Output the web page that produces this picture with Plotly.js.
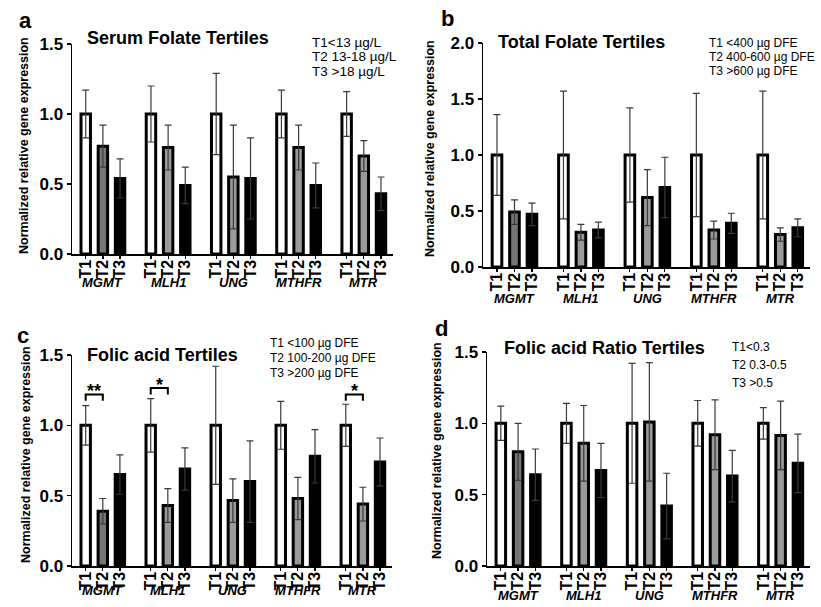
<!DOCTYPE html>
<html>
<head>
<meta charset="utf-8">
<script src="https://cdn.plot.ly/plotly-3.0.1.min.js"></script>
<style>html,body{margin:0;padding:0;background:#fff;}#chart{width:821px;height:607px;}</style>
</head>
<body>
<div id="chart"></div>
<script>
// ---------- data ----------
const genes = ['MGMT', 'MLH1', 'UNG', 'MTHFR', 'MTR'];
const tertiles = ['T1', 'T2', 'T3'];

// Panel a: Serum folate tertiles
const serumT1 = [1.00, 1.00, 1.00, 1.00, 1.00];
const serumT1Err = [0.17, 0.20, 0.29, 0.17, 0.16];
const serumT2 = [0.77, 0.76, 0.55, 0.76, 0.70];
const serumT2Err = [0.15, 0.16, 0.37, 0.16, 0.11];
const serumT3 = [0.54, 0.49, 0.54, 0.49, 0.43];
const serumT3Err = [0.14, 0.13, 0.29, 0.16, 0.12];

// Panel b: Total folate tertiles
const totalT1 = [1.00, 1.00, 1.00, 1.00, 1.00];
const totalT1Err = [0.36, 0.57, 0.42, 0.55, 0.57];
const totalT2 = [0.49, 0.31, 0.62, 0.33, 0.29];
const totalT2Err = [0.11, 0.07, 0.25, 0.08, 0.06];
const totalT3 = [0.47, 0.33, 0.71, 0.39, 0.35];
const totalT3Err = [0.10, 0.07, 0.27, 0.09, 0.08];

// Panel c: Folic acid tertiles
const folicT1 = [1.00, 1.00, 1.00, 1.00, 1.00];
const folicT1Err = [0.14, 0.19, 0.42, 0.17, 0.15];
const folicT2 = [0.39, 0.43, 0.465, 0.48, 0.44];
const folicT2Err = [0.09, 0.12, 0.155, 0.15, 0.12];
const folicT3 = [0.65, 0.69, 0.60, 0.78, 0.74];
const folicT3Err = [0.14, 0.15, 0.29, 0.19, 0.17];

// Panel d: Folic acid ratio tertiles
const ratioT1 = [1.00, 1.00, 1.00, 1.00, 1.00];
const ratioT1Err = [0.12, 0.14, 0.42, 0.16, 0.11];
const ratioT2 = [0.80, 0.86, 1.01, 0.92, 0.915];
const ratioT2Err = [0.20, 0.265, 0.415, 0.245, 0.24];
const ratioT3 = [0.64, 0.67, 0.42, 0.63, 0.72];
const ratioT3Err = [0.18, 0.19, 0.23, 0.18, 0.205];

// Significance (panel c): T1 vs T2
const sigGenes = ['MGMT', 'MLH1', 'MTR'];
const sigLabels = ['**', '*', '*'];
const sigHeights = [1.22, 1.265, 1.22];

const titles = ['Serum Folate Tertiles', 'Total Folate Tertiles', 'Folic acid Tertiles', 'Folic acid Ratio Tertiles'];
const panelLetters = ['a', 'b', 'c', 'd'];
const legendA = ['T1<13 µg/L', 'T2 13-18 µg/L', 'T3 >18 µg/L'];
const legendB = ['T1 <400 µg DFE', 'T2 400-600 µg DFE', 'T3 >600 µg DFE'];
const legendC = ['T1 <100 µg DFE', 'T2 100-200 µg DFE', 'T3 >200 µg DFE'];
const legendD = ['T1<0.3', 'T2 0.3-0.5', 'T3 >0.5'];
const yTitle = 'Normalized relative gene expression';

// ---------- styling / layout ----------
const W = 821, H = 607;
const FONT = 'Liberation Sans, Arial, sans-serif';
const GROUP = 3.8;          // slots between gene groups
const BARW = 0.55;
const t2Fill = ['#767676', '#9a9a9a', '#9a9a9a', '#9a9a9a', '#9a9a9a'];
const fills = [() => '#ffffff', () => t2Fill, () => '#000000'];

const px = v => v / W;
const py = v => 1 - v / H;

const panels = [
  { vals: [serumT1, serumT2, serumT3], errs: [serumT1Err, serumT2Err, serumT3Err], ymax: 1.5,
    xd: [72, 393], yd: [44, 254], legend: legendA, legX: 310, legY: 42, legDy: 15, legSize: 13.5,
    titleX: 85, titleY: 38, letter: [26, 21], yt: [24, 146], geneY: 282 },
  { vals: [totalT1, totalT2, totalT3], errs: [totalT1Err, totalT2Err, totalT3Err], ymax: 2.0,
    xd: [483, 810], yd: [43, 267], legend: legendB, legX: 707, legY: 43, legDy: 14, legSize: 12,
    titleX: 496, titleY: 42, letter: [447, 18], yt: [430, 149], geneY: 298 },
  { vals: [folicT1, folicT2, folicT3], errs: [folicT1Err, folicT2Err, folicT3Err], ymax: 1.5,
    xd: [72, 392], yd: [355, 566], legend: legendC, legX: 268, legY: 343, legDy: 15, legSize: 12,
    titleX: 85, titleY: 355, letter: [23, 335], yt: [26, 455], geneY: 590 },
  { vals: [ratioT1, ratioT2, ratioT3], errs: [ratioT1Err, ratioT2Err, ratioT3Err], ymax: 1.5,
    xd: [487, 810], yd: [352, 566], legend: legendD, legX: 730, legY: 347, legDy: 18, legSize: 12,
    titleX: 502, titleY: 348, letter: [442, 329], yt: [437, 451], geneY: 595 }
];

const traces = [];
const layout = {
  width: W, height: H,
  margin: { l: 0, r: 0, t: 0, b: 0 },
  paper_bgcolor: '#ffffff', plot_bgcolor: 'rgba(0,0,0,0)',
  showlegend: false, barmode: 'overlay',
  font: { family: FONT, color: '#000000' },
  annotations: [], shapes: []
};

const tickvals = [], ticktext = [];
genes.forEach((g, gi) => tertiles.forEach((t, ti) => { tickvals.push(gi * GROUP + ti); ticktext.push('<b>' + t + '</b>'); }));

panels.forEach((p, pi) => {
  const sfx = pi === 0 ? '' : String(pi + 1);
  const xa = 'x' + sfx, ya = 'y' + sfx;
  p.vals.forEach((vals, ti) => {
    traces.push({
      type: 'bar', xaxis: xa, yaxis: ya,
      x: genes.map((g, gi) => gi * GROUP + ti),
      y: vals, width: BARW,
      marker: { color: fills[ti](), line: { color: '#000000', width: 3 } },
      error_y: { type: 'data', array: p.errs[ti], visible: true, color: '#3a3a3a', thickness: 1.2, width: 3.5 },
      hoverinfo: 'skip'
    });
  });
  layout['xaxis' + sfx] = {
    domain: [px(p.xd[0]), px(p.xd[1])], anchor: ya,
    range: [-0.8, 4 * GROUP + 2 + 0.7],
    showgrid: false, zeroline: false, showline: true, linecolor: '#000', linewidth: 1.5,
    ticks: 'outside', ticklen: 3, tickcolor: '#000', tickwidth: 1.2,
    tickmode: 'array', tickvals: tickvals, ticktext: ticktext, tickangle: -90,
    ticklabelstandoff: -5,
    tickfont: { family: FONT, size: 16, color: '#000' }, fixedrange: true
  };
  layout['yaxis' + sfx] = {
    domain: [py(p.yd[1]), py(p.yd[0])], anchor: xa,
    range: [0, p.ymax], dtick: 0.5, tickformat: '.1f',
    showgrid: false, zeroline: false, showline: true, linecolor: '#000', linewidth: 1.5,
    ticks: 'outside', ticklen: 4, tickcolor: '#000', tickwidth: 1.2,
    tickfont: { family: FONT, size: 17, color: '#000', weight: 'bold' }, fixedrange: true
  };
  // gene labels
  genes.forEach((g, gi) => {
    layout.annotations.push({ xref: xa, yref: 'paper', x: gi * GROUP + 1, y: py(p.geneY),
      text: '<b><i>' + g + '</i></b>', showarrow: false, xanchor: 'center', yanchor: 'middle',
      font: { family: FONT, size: 13, color: '#000' } });
  });
  // title
  layout.annotations.push({ xref: 'paper', yref: 'paper', x: px(p.titleX), y: py(p.titleY),
    text: '<b>' + titles[pi] + '</b>', showarrow: false, xanchor: 'left', yanchor: 'middle',
    font: { family: FONT, size: 18, color: '#000' } });
  // panel letter
  layout.annotations.push({ xref: 'paper', yref: 'paper', x: px(p.letter[0]), y: py(p.letter[1]),
    text: '<b>' + panelLetters[pi] + '</b>', showarrow: false, xanchor: 'center', yanchor: 'middle',
    font: { family: FONT, size: 22, color: '#000' } });
  // y title
  layout.annotations.push({ xref: 'paper', yref: 'paper', x: px(p.yt[0]), y: py(p.yt[1]),
    text: '<b>' + yTitle + '</b>', showarrow: false, textangle: -90, xanchor: 'center', yanchor: 'middle',
    font: { family: FONT, size: 12.5, color: '#000' } });
  // legend text
  p.legend.forEach((s, li) => {
    layout.annotations.push({ xref: 'paper', yref: 'paper', x: px(p.legX), y: py(p.legY + li * p.legDy),
      text: s, showarrow: false, xanchor: 'left', yanchor: 'middle',
      font: { family: FONT, size: p.legSize, color: '#000' } });
  });
});

// significance brackets on panel c
sigGenes.forEach((g, i) => {
  const gi = genes.indexOf(g);
  const x1 = gi * GROUP, x2 = gi * GROUP + 1, h = sigHeights[i], d = 0.045;
  layout.shapes.push({ type: 'path', xref: 'x3', yref: 'y3',
    path: `M ${x1},${h - d} L ${x1},${h} L ${x2},${h} L ${x2},${h - d}`,
    line: { color: '#000', width: 2 } });
  layout.annotations.push({ xref: 'x3', yref: 'y3', x: (x1 + x2) / 2, y: h, yshift: -9,
    text: '<b>' + sigLabels[i] + '</b>', showarrow: false, xanchor: 'center', yanchor: 'bottom',
    font: { family: FONT, size: 18, color: '#000' } });
});

Plotly.newPlot('chart', traces, layout, { staticPlot: true, displayModeBar: false });
</script>
</body>
</html>
